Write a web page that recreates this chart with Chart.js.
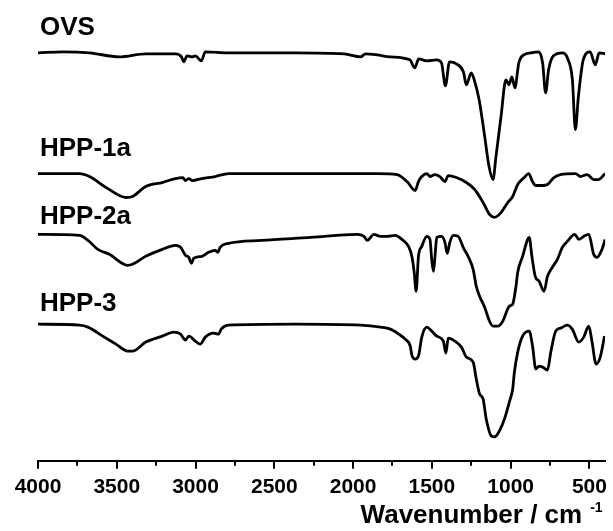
<!DOCTYPE html>
<html>
<head>
<meta charset="utf-8">
<title>FTIR spectra</title>
<script src="https://cdn.jsdelivr.net/npm/chart.js@4/dist/chart.umd.min.js"></script>
<style>
  html, body { margin: 0; padding: 0; background: #fff; }
  #wrap { width: 613px; height: 531px; }
</style>
</head>
<body>
<div id="wrap"><canvas id="ftir"></canvas></div>
<script>
// FTIR spectra, wavenumber in cm-1, intensity in a.u. (curves offset as in the figure)

const ovsWn = [4000, 3841, 3673, 3484, 3316, 3127, 3089, 3075, 3054, 3022, 3001, 2963, 2938, 2791, 2371, 2057, 1952, 1921, 1848, 1766, 1640, 1609, 1583, 1533, 1470, 1439, 1414, 1388, 1344, 1300, 1281, 1250, 1231, 1200, 1168, 1137, 1112, 1093, 1061, 1030, 1011, 992, 973, 948, 916, 872, 822, 797, 778, 759, 728, 671, 640, 608, 589, 570, 539, 495, 463, 438, 400];
const ovsVal = [409, 410, 409, 405, 408, 408, 405, 400, 406, 405, 406, 401, 410, 409, 409, 408, 405, 408, 407, 405, 402, 394, 403, 401, 402, 399, 376, 400, 398, 390, 377, 389, 382, 362, 329, 295, 282, 305, 345, 382, 377, 385, 374, 399, 407, 409, 410, 399, 369, 392, 406, 409, 404, 382, 332, 365, 402, 410, 397, 409, 408];

const hpp1Wn = [4000, 3736, 3673, 3568, 3442, 3400, 3316, 3211, 3127, 3081, 3064, 3043, 3022, 2959, 2875, 2791, 2371, 1848, 1721, 1658, 1606, 1585, 1564, 1532, 1512, 1480, 1449, 1417, 1396, 1344, 1281, 1228, 1175, 1134, 1102, 1060, 1018, 987, 955, 914, 886, 861, 840, 798, 766, 725, 683, 588, 557, 514, 473, 441, 400];
const hpp1Val = [288, 288, 285, 274, 264, 265, 275, 279, 283, 284, 281, 283, 281, 283, 285, 288, 288, 288, 287, 280, 271, 280, 285, 288, 285, 287, 285, 280, 286, 284, 279, 272, 259, 247, 244, 249, 259, 265, 277, 284, 288, 280, 276, 276, 277, 284, 287, 288, 285, 287, 282, 282, 288];

const hpp2Wn = [4000, 3736, 3683, 3620, 3547, 3432, 3400, 3316, 3211, 3127, 3095, 3064, 3043, 3026, 3012, 2959, 2917, 2875, 2859, 2844, 2791, 2582, 2267, 1973, 1931, 1910, 1868, 1826, 1784, 1732, 1690, 1648, 1627, 1612, 1600, 1585, 1564, 1532, 1512, 1501, 1490, 1480, 1469, 1438, 1417, 1402, 1386, 1364, 1333, 1301, 1270, 1238, 1218, 1197, 1165, 1134, 1112, 1081, 1050, 1008, 987, 966, 955, 924, 892, 882, 865, 844, 819, 788, 766, 735, 703, 672, 640, 593, 567, 536, 504, 473, 452, 420, 400];
const hpp2Val = [227, 226, 221, 212, 207, 196, 197, 205, 212, 216, 214, 206, 204, 198, 203, 205, 209, 211, 209, 214, 218, 221, 224, 227, 225, 221, 227, 225, 225, 226, 222, 215, 205, 189, 170, 205, 215, 225, 222, 202, 190, 205, 224, 225, 219, 208, 219, 226, 225, 214, 205, 192, 175, 165, 154, 140, 135, 135, 140, 155, 157, 175, 189, 205, 222, 224, 205, 185, 180, 170, 185, 194, 202, 214, 220, 227, 222, 225, 227, 207, 204, 212, 222];

const hpp3Wn = [4000, 3736, 3683, 3589, 3505, 3432, 3400, 3316, 3211, 3138, 3095, 3064, 3043, 3001, 2970, 2938, 2886, 2854, 2837, 2791, 2371, 1952, 1826, 1763, 1710, 1669, 1637, 1627, 1606, 1585, 1564, 1532, 1501, 1469, 1427, 1411, 1396, 1354, 1312, 1281, 1238, 1218, 1197, 1175, 1155, 1123, 1102, 1071, 1039, 1008, 987, 976, 955, 924, 882, 861, 840, 819, 798, 766, 745, 714, 683, 640, 609, 567, 536, 504, 483, 458, 431, 404];
const hpp3Val = [137, 136, 134, 125, 117, 110, 110, 119, 125, 129, 127, 121, 125, 120, 117, 124, 128, 127, 132, 136, 137, 136, 134, 132, 127, 122, 115, 106, 102, 105, 124, 134, 130, 125, 120, 108, 123, 120, 114, 104, 99, 82, 67, 62, 42, 25, 24, 30, 42, 59, 72, 89, 109, 125, 130, 115, 92, 95, 94, 91, 109, 130, 133, 136, 132, 119, 124, 135, 119, 97, 104, 125];

const sampleNames = ["OVS", "HPP-1a", "HPP-2a", "HPP-3"];
const xTicks = [4000, 3500, 3000, 2500, 2000, 1500, 1000, 500];
const minorTicks = [3750, 3250, 2750, 2250, 1750, 1250, 750];

const FONT = '"Liberation Sans", Arial, sans-serif';
// where each sample name sits (y in data units, above its curve)
const nameLevel = [427, 306, 237, 150];

const toPoints = (wn, val) => wn.map((w, i) => ({ x: w, y: val[i] }));

// minor ticks, curve names and the axis title with superscript
const decor = {
  id: "decor",
  afterDraw(chart) {
    const { ctx, chartArea, scales } = chart;
    const x = scales.x;
    const y = scales.y;
    ctx.save();
    ctx.strokeStyle = "#000";
    ctx.lineWidth = 2;
    minorTicks.forEach((v) => {
      const px = Math.round(x.getPixelForValue(v));
      ctx.beginPath();
      ctx.moveTo(px, chartArea.bottom);
      ctx.lineTo(px, chartArea.bottom + 5);
      ctx.stroke();
    });

    ctx.fillStyle = "#000";
    ctx.textBaseline = "alphabetic";
    ctx.textAlign = "left";
    ctx.font = "bold 26px " + FONT;
    sampleNames.forEach((name, i) => {
      ctx.fillText(name, chartArea.left + 2, y.getPixelForValue(nameLevel[i]));
    });

    ctx.textAlign = "right";
    ctx.fillText("Wavenumber / cm", chartArea.right - 23, 523);
    ctx.textAlign = "left";
    ctx.font = "bold 14px " + FONT;
    ctx.fillText("-1", chartArea.right - 15, 512);
    ctx.restore();
  },
};

new Chart(document.getElementById("ftir"), {
  type: "line",
  data: {
    datasets: [
      { label: sampleNames[0], data: toPoints(ovsWn, ovsVal) },
      { label: sampleNames[1], data: toPoints(hpp1Wn, hpp1Val) },
      { label: sampleNames[2], data: toPoints(hpp2Wn, hpp2Val) },
      { label: sampleNames[3], data: toPoints(hpp3Wn, hpp3Val) },
    ],
  },
  options: {
    responsive: true,
    maintainAspectRatio: false,
    animation: false,
    layout: { padding: { left: 38, right: 3, top: 0, bottom: 25 } },
    elements: {
      line: {
        borderColor: "#000",
        borderWidth: 2.8,
        cubicInterpolationMode: "monotone",
        fill: false,
      },
      point: { radius: 0 },
    },
    plugins: {
      legend: { display: false },
      tooltip: { enabled: false },
    },
    scales: {
      x: {
        type: "linear",
        reverse: true,
        min: 400,
        max: 4000,
        afterBuildTicks: (axis) => {
          axis.ticks = xTicks.map((v) => ({ value: v }));
        },
        grid: {
          drawOnChartArea: false,
          drawTicks: true,
          tickLength: 8,
          color: "#000",
          lineWidth: 2,
        },
        border: { display: true, color: "#000", width: 2 },
        ticks: {
          color: "#000",
          autoSkip: false,
          maxRotation: 0,
          padding: 6,
          font: { family: FONT, size: 21, weight: "bold" },
          callback: (value) => String(value),
        },
      },
      y: { display: false, min: 0, max: 462 },
    },
  },
  plugins: [decor],
});
</script>
</body>
</html>
